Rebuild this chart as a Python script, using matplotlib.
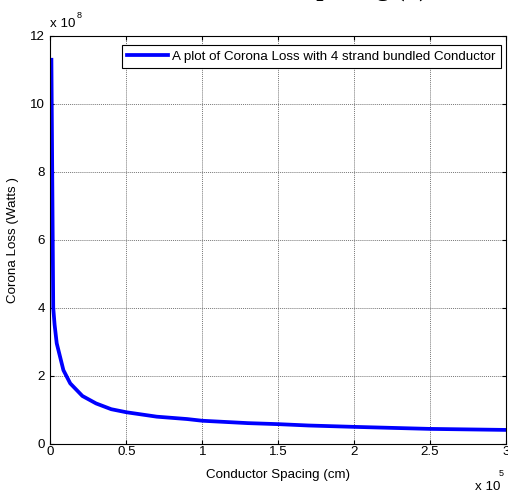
import numpy as np
import matplotlib
matplotlib.use("Agg")
import matplotlib.pyplot as plt

# conductor spacing (cm) and corona loss (W)
spacing = [600, 1800, 2700, 4100, 8500, 13000, 21000, 30000, 40000, 50000,
           70000, 90000, 100000, 130000, 150000, 170000, 200000, 250000, 300000]
loss = [11.3e8, 4.0e8, 3.5e8, 2.95e8, 2.16e8, 1.77e8, 1.40e8, 1.18e8, 1.01e8, 0.92e8,
        0.79e8, 0.72e8, 0.67e8, 0.60e8, 0.57e8, 0.53e8, 0.49e8, 0.43e8, 0.40e8]

x_ticks = [0, 0.5e5, 1e5, 1.5e5, 2e5, 2.5e5, 3e5]
x_labels = ["0", "0.5", "1", "1.5", "2", "2.5", "3"]
y_ticks = [0, 2e8, 4e8, 6e8, 8e8, 10e8, 12e8]
y_labels = ["0", "2", "4", "6", "8", "10", "12"]

plt.rcParams['font.family'] = ['Liberation Sans', 'DejaVu Sans']
fs = 9.6

fig = plt.figure(figsize=(5.08, 4.93), dpi=100)
ax = fig.add_axes([0.0994, 0.1004, 0.8967, 0.8266])

ax.plot(spacing, loss, color='#0000ff', linewidth=2.7,
        label='A plot of Corona Loss with 4 strand bundled Conductor')

ax.set_xlim(0, 3e5)
ax.set_ylim(0, 12e8)
ax.set_xticks(x_ticks)
ax.set_xticklabels(x_labels)
ax.set_yticks(y_ticks)
ax.set_yticklabels(y_labels)
ax.tick_params(direction='in', length=3, width=0.8, top=True, right=True,
               labelsize=fs, colors='black')
ax.tick_params(axis='x', pad=2)
ax.tick_params(axis='y', pad=4)
ax.grid(True, color='#777777', linestyle=(0, (1, 1)), linewidth=0.7)
for s in ax.spines.values():
    s.set_linewidth(0.8)
    s.set_color('black')

ax.set_xlabel('Conductor Spacing (cm)', fontsize=fs, labelpad=8)
ax.set_ylabel('Corona Loss (Watts )', fontsize=fs, labelpad=8)

leg = ax.legend(loc='upper right', bbox_to_anchor=(0.989, 0.978), borderaxespad=0,
                fontsize=fs, handlelength=3.1, handletextpad=0.3, borderpad=0.4,
                fancybox=False, framealpha=1, edgecolor='black')
leg.get_frame().set_linewidth(0.8)

# MATLAB style exponent labels
fig.text(50 / 508, 1 - 24 / 493, 'x 10', fontsize=fs, va='center', ha='left')
fig.text(77 / 508, 1 - 15 / 493, '8', fontsize=6.5, va='center', ha='left')
fig.text(475 / 508, 1 - 487 / 493, 'x 10', fontsize=fs, va='center', ha='left')
fig.text(499 / 508, 1 - 474 / 493, '5', fontsize=6.5, va='center', ha='left')

# title, mostly cut off at the top of the picture
fig.text(428 / 508, 1 + 4 / 493, 'Corona Loss Vs Conductor Spacing (d)',
         fontsize=18.5, fontweight='bold', family='Liberation Serif',
         ha='right', va='baseline')

fig.savefig('out.png', dpi=100)
